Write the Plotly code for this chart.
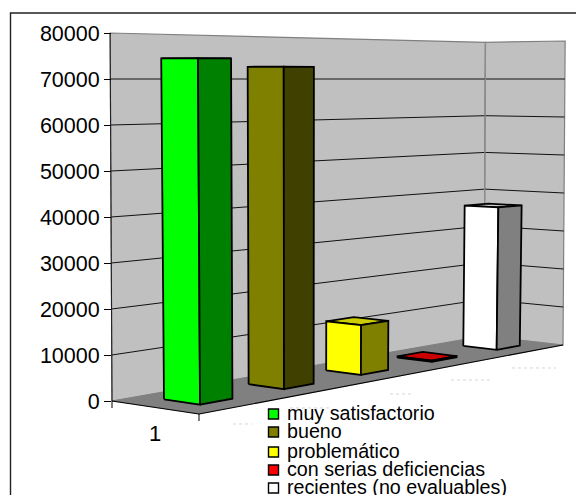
import numpy as np
import plotly.graph_objects as go

CATEGORIES = ["1"]
SERIES = ["muy satisfactorio", "bueno", "problemático", "con serias deficiencias", "recientes (no evaluables)"]
VALUES = [74500, 72800, 11800, 300, 36800]
TICKS = [0, 10000, 20000, 30000, 40000, 50000, 60000, 70000, 80000]
FRONT = ["#00ff00", "#808000", "#ffff00", "#ff0000", "#ffffff"]
SIDE = ["#008000", "#404000", "#808000", "#800000", "#808080"]
TOP = ["#00cc00", "#666600", "#cccc00", "#cc0000", "#cccccc"]

W, H = 576, 495
FONT = "Liberation Sans, Arial, sans-serif"

# perspective of the chart box: floor corners in page pixels
FLOOR = [(199, 414), (563, 345), (484, 336), (112, 401)]
HORIZON_VAL, HORIZON_Y = 70000, 79
(x0, y0), (x1, y1), (x2, y2), (x3, y3) = FLOOR
_det = (x1 - x2) * (y3 - y2) - (x3 - x2) * (y1 - y2)
_sx, _sy = x0 - x1 + x2 - x3, y0 - y1 + y2 - y3
G = (_sx * (y3 - y2) - (x3 - x2) * _sy) / _det
K = ((x1 - x2) * _sy - _sx * (y1 - y2)) / _det
A, B, C = x1 - x0 + G * x1, x3 - x0 + K * x3, x0
D, E, F = y1 - y0 + G * y1, y3 - y0 + K * y3, y0


def to_val(py):
    """page pixel row -> value axis coordinate"""
    return (401 - py) * 80000 / 368


def project(u, v, val, lean):
    w = G * u + K * v + 1
    bx = (A * u + B * v + C) / w
    by = (D * u + E * v + F) / w
    py = by - (by - HORIZON_Y) * val / HORIZON_VAL
    px = bx + (bx - 300) * lean * (by - py)
    return px, to_val(py)


fig = go.Figure()


def poly(points, fill=None, color="#000000", width=1.0, dash=None):
    xs = [p[0] for p in points]
    ys = [p[1] for p in points]
    fig.add_trace(go.Scatter(
        x=xs, y=ys, mode="lines", fill="toself" if fill else "none",
        fillcolor=fill, line=dict(color=color, width=width, dash=dash),
        hoverinfo="skip", showlegend=False))


WL = 2.7e-5
BL = 6e-5
TOPV = TICKS[-1]

# left / right walls and floor
poly([project(0, 1, 0, WL), project(1, 1, 0, WL), project(1, 1, TOPV, WL), project(0, 1, TOPV, WL),
      project(0, 1, 0, WL)], "#c0c0c0", "#808080", 1.2)
poly([project(1, 1, 0, WL), project(1, 0, 0, WL), project(1, 0, TOPV, WL), project(1, 1, TOPV, WL),
      project(1, 1, 0, WL)], "#c0c0c0", "#808080", 1.2)
poly([project(0, 0, 0, WL), project(1, 0, 0, WL), project(1, 1, 0, WL), project(0, 1, 0, WL),
      project(0, 0, 0, WL)], "#808080", "#808080", 0.5)

# gridlines
for t in TICKS[1:-1]:
    poly([project(0, 1, t, WL), project(1, 1, t, WL), project(1, 0, t, WL)], None, "#111111", 1.0)

# axis edges
poly([project(0, 1, 0, WL), project(0, 1, TOPV, WL)], None, "#222222", 1.1)
poly([project(0, 1, 0, WL), project(0, 0, 0, WL), project(1, 0, 0, WL)], None, "#000000", 1.1)
poly([project(0, 0, 0, WL), (199, to_val(421))], None, "#000000", 1.0)
poly([project(0, 1, 0, WL), (112, to_val(408))], None, "#000000", 1.0)
poly([project(1, 1, 0, WL), project(1, 1, TOPV, WL)], None, "#8c8c8c", 1.3)

# bars
U0, PITCH, BW = 0.064, 0.2, 0.075
V0, V1 = 0.31, 0.727
for i, val in enumerate(VALUES):
    u0, u1 = U0 + PITCH * i, U0 + PITCH * i + BW
    fb, fl, fr, bk = (u0, V0), (u0, V1), (u1, V0), (u1, V1)
    p = lambda c, h: project(c[0], c[1], h, BL)
    poly([p(fl, val), p(fb, val), p(fr, val), p(bk, val), p(fl, val)], TOP[i], "#000000", 1.8)
    poly([p(fl, 0), p(fb, 0), p(fb, val), p(fl, val), p(fl, 0)], FRONT[i], "#000000", 1.8)
    poly([p(fb, 0), p(fr, 0), p(fr, val), p(fb, val), p(fb, 0)], SIDE[i], "#000000", 1.8)

# legend
LEG_Y = [414, 432, 452, 470, 488]
for name, col, ly in zip(SERIES, FRONT, LEG_Y):
    fig.add_trace(go.Scatter(
        x=[273.5], y=[to_val(ly)], mode="markers",
        marker=dict(symbol="square", size=10, color=col, line=dict(color="#000000", width=1.4)),
        hoverinfo="skip", showlegend=False))
    fig.add_annotation(x=285, y=to_val(ly - 1), text=name, showarrow=False, xanchor="left", yanchor="middle",
                       xref="x", yref="y", font=dict(family=FONT, size=19.7, color="#000000"))

fig.add_annotation(x=155, y=to_val(433), text=CATEGORIES[0], showarrow=False, xref="x", yref="y",
                   font=dict(family=FONT, size=22, color="#000000"))

# faint dotted leftovers below the floor
for xa, xb, yy in [(233, 252, 424), (290, 330, 408), (390, 411, 394), (451, 490, 380), (512, 556, 368)]:
    poly([(xa, to_val(yy)), (xb, to_val(yy))], None, "#c4c4c4", 0.7, "dot")

fig.update_layout(
    width=W, height=H, margin=dict(l=0, r=0, t=0, b=0),
    paper_bgcolor="#ffffff", plot_bgcolor="#ffffff", showlegend=False,
    xaxis=dict(range=[0, W], visible=False, fixedrange=True),
    yaxis=dict(range=[to_val(H), to_val(0)], tickmode="array", tickvals=TICKS,
               ticktext=[str(t) for t in TICKS], ticks="outside", ticklen=7, tickwidth=1,
               tickcolor="#000000", showgrid=False, zeroline=False, showline=False,
               anchor="free", position=111 / W, side="left",
               tickfont=dict(family=FONT, size=21.5, color="#000000"), fixedrange=True),
    shapes=[dict(type="rect", xref="paper", yref="paper", x0=10.5 / W, x1=1.2, y0=-0.2, y1=1 - 13 / H,
                 line=dict(color="#222222", width=1.4), fillcolor="rgba(0,0,0,0)", layer="below")],
)
fig.write_html("out.html", config={"displayModeBar": False},
               post_script="document.body.style.margin='0';document.body.style.overflow='hidden';window.dispatchEvent(new Event('resize'));")
